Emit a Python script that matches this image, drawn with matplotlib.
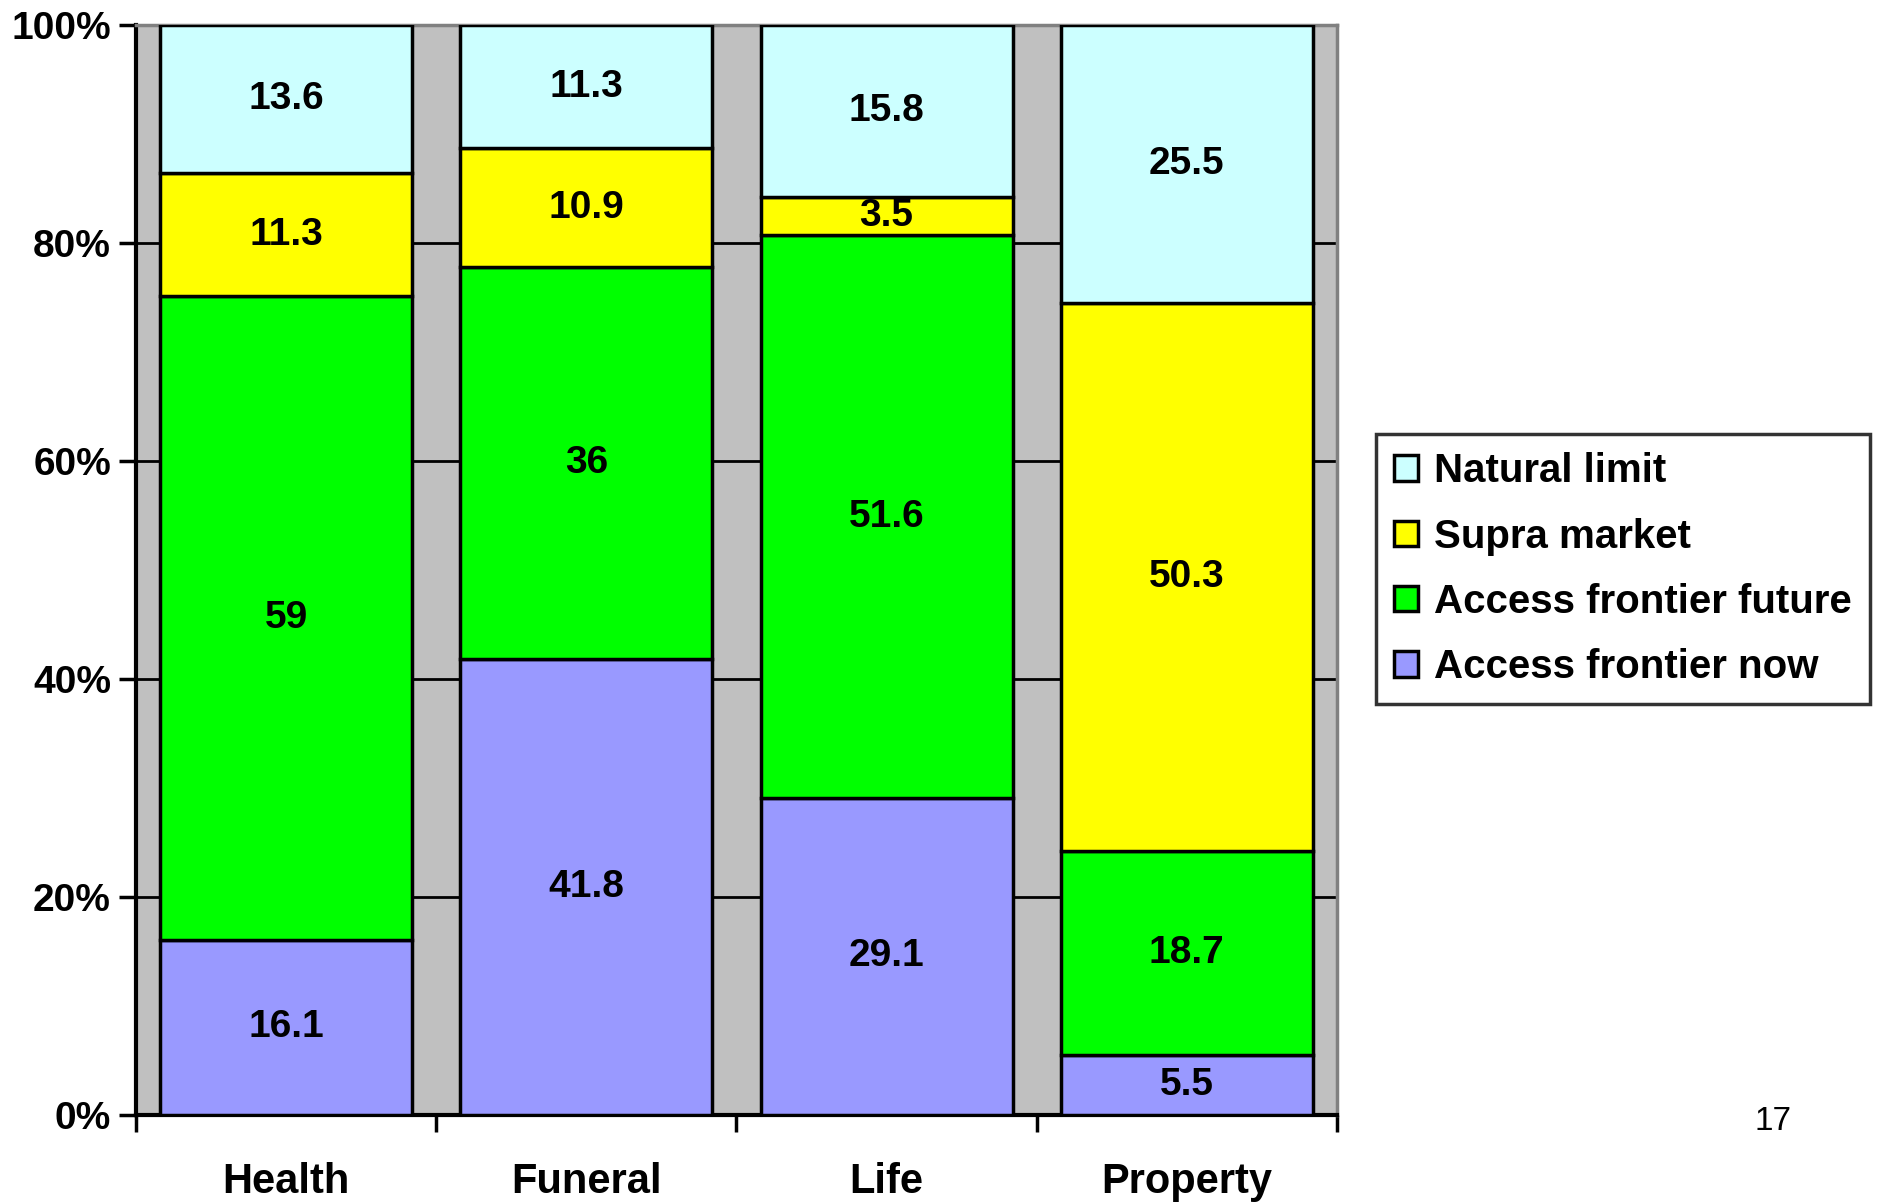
import matplotlib.pyplot as plt
import numpy as np

categories = ['Health', 'Funeral', 'Life', 'Property']
series_names = ['Access frontier now', 'Access frontier future',
                'Supra market', 'Natural limit']
access_now = [16.1, 41.8, 29.1, 5.5]
access_future = [59, 36, 51.6, 18.7]
supra_market = [11.3, 10.9, 3.5, 50.3]
natural_limit = [13.6, 11.3, 15.8, 25.5]
colors = ['#9999FF', '#00FF00', '#FFFF00', '#CCFFFF']
page_number = '17'

plt.rcParams['font.family'] = ['Liberation Sans', 'DejaVu Sans']
plt.rcParams['font.weight'] = 'bold'

fig = plt.figure(figsize=(18.81, 12.03), dpi=100)
ax = fig.add_axes([136 / 1881, 1 - 1115 / 1203, 1201 / 1881, 1090 / 1203])
ax.set_facecolor('#C0C0C0')

x = np.arange(len(categories))
bottom = np.zeros(len(categories))
data = [access_now, access_future, supra_market, natural_limit]
bars = []
for name, vals, col in zip(series_names, data, colors):
    vals = np.array(vals, dtype=float)
    b = ax.bar(x, vals, 0.84, bottom=bottom, color=col, edgecolor='black',
               linewidth=2.5, label=name, zorder=3)
    bars.append(b)
    for xi, v, bt in zip(x, vals, bottom):
        ax.text(xi, bt + v / 2, f'{v:g}', ha='center', va='center',
                fontsize=28, fontweight='bold', zorder=4)
    bottom += vals

ax.set_xlim(-0.5, len(categories) - 0.5)
ax.set_ylim(0, 100)
ax.set_yticks(np.arange(0, 101, 20))
ax.set_yticklabels([f'{v}%' for v in range(0, 101, 20)])
ax.yaxis.grid(True, color='black', linewidth=2, zorder=1)
ax.set_axisbelow(True)

# category ticks sit between the bars, labels under each bar
ax.set_xticks(np.arange(-0.5, len(categories), 1.0))
ax.set_xticklabels([])
ax.set_xticks(x, minor=True)
ax.set_xticklabels(categories, minor=True)
ax.tick_params(axis='x', which='minor', length=0, pad=34, labelsize=30)
ax.tick_params(axis='x', which='major', length=12, width=2.5, direction='out')
ax.tick_params(axis='y', length=12, width=2.5, direction='out', labelsize=28, pad=6)

for side in ['left', 'bottom']:
    ax.spines[side].set_color('black')
    ax.spines[side].set_linewidth(3)
for side in ['top', 'right']:
    ax.spines[side].set_color('#808080')
    ax.spines[side].set_linewidth(2.5)

handles = [bars[i] for i in reversed(range(len(bars)))]
labels = [series_names[i] for i in reversed(range(len(bars)))]
leg = fig.legend(handles, labels, loc='upper left',
                 bbox_to_anchor=(1376 / 1881, 1 - 434 / 1203),
                 frameon=True, fancybox=False, edgecolor='black',
                 prop={'size': 29, 'weight': 'bold'},
                 handlelength=0.6, handleheight=0.6, handletextpad=0.4,
                 labelspacing=0.68, borderpad=0.45, borderaxespad=0)
leg.get_frame().set_linewidth(2.5)

fig.text(1773 / 1881, 1 - 1122 / 1203, page_number, ha='center', va='center',
         fontsize=24, fontweight='normal')

fig.savefig('out.png', dpi=100)
